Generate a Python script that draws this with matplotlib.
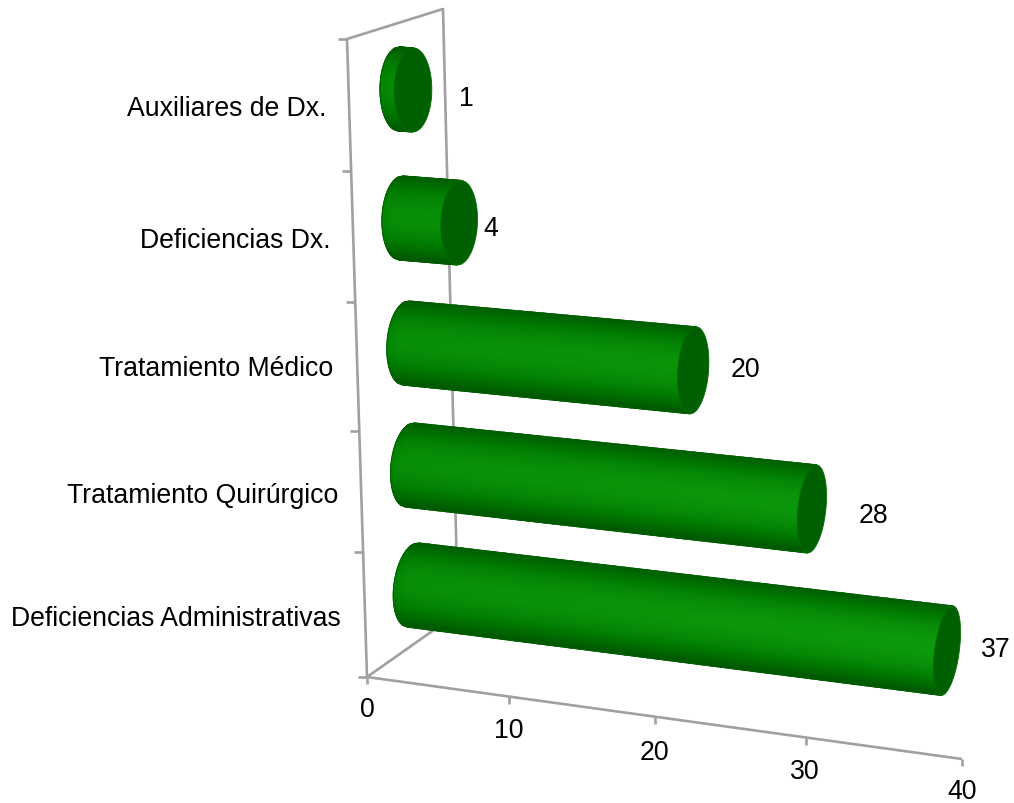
"""Barras cilíndricas horizontais em perspectiva: causas por categoria."""

import matplotlib
matplotlib.use("Agg")
import matplotlib.pyplot as plt
import numpy as np
from matplotlib.colors import LinearSegmentedColormap
from matplotlib.patches import Polygon

categorias = [
    "Auxiliares de Dx.",
    "Deficiencias Dx.",
    "Tratamiento Médico",
    "Tratamiento Quirúrgico",
    "Deficiencias Administrativas",
]
valores = [1, 4, 20, 28, 37]
ticks_x = [0, 10, 20, 30, 40]

# layout em pixels da imagem final
BASE_X = [399, 401, 406, 410, 413]
BASE_Y = [90, 219, 344, 466, 586]
GANHO = [1.0, 1.035, 0.997, 0.984, 0.975]
ROTULO_CAT_X = [326, 331, 333, 338, 341]
ROTULO_CAT_Y = [109, 241, 369, 496, 619]
ROTULO_VAL_X = [466, 491, 745, 873, 996]
ROTULO_VAL_Y = [99, 229, 370, 516, 650]
ROTULO_TICK_X = [367, 509, 654, 805, 962]
ROTULO_TICK_Y = [710, 731, 753, 772, 792]
TICKS_Y_PAREDE = [40, 172, 303, 432, 553, 678]

ORIGEM = np.array([367.0, 678.0])
FIM_EIXO = np.array([962.0, 760.0])
CINZA = "#a0a0a0"
TAMPA = "#005f00"

verdes = LinearSegmentedColormap.from_list("verdes", ["#005800", "#007a00", "#0c9a0c"])


def projeta(v):
    """Fração perspectiva do eixo de valores (px a partir da origem)."""
    return 13.955 * v / (1 - 0.001547 * v)


def ponto_eixo(v):
    return ORIGEM + (FIM_EIXO - ORIGEM) * projeta(v) / projeta(40)


def cilindro(ax, x0, y0, comprimento):
    inclinacao = 0.123 - (586 - y0) * 0.000115
    x1, y1 = x0 + comprimento, y0 + comprimento * inclinacao

    s = np.linspace(-1, 1, 61)
    u = np.linspace(0, 1, 50)
    S, U = np.meshgrid(s, u, indexing="ij")

    cx = x0 + U * (x1 - x0)
    cy = y0 + U * (y1 - y0)
    raio = 42 + 0.005 * (cx - 400)
    desvio = 6 - (586 - y0) * 0.0105
    menor_0 = 19 - (x0 - 400) * 0.0125
    curva = np.sqrt(1 - S ** 2)
    X = cx + S * desvio - curva * menor_0 * (1 - U)
    Y = cy - S * raio - curva * menor_0 * (1 - U) * inclinacao

    luz = (1 - (S - 0.05) ** 2).clip(0, 1)
    luz = luz * (0.82 + 0.18 * (cx - 400) / 550)
    luz = luz * (1 - 0.18 * np.exp(-U * comprimento / 5))
    ax.pcolormesh(X, Y, luz, cmap=verdes, vmin=0, vmax=1, shading="gouraud", zorder=3)

    # contorno suavizado da lateral
    contorno = np.column_stack([
        np.r_[X[:, 0], X[-1, -1], X[0, -1]],
        np.r_[Y[:, 0], Y[-1, -1], Y[0, -1]],
    ])
    ax.add_patch(Polygon(contorno, closed=True, fill=False, edgecolor="#006000",
                         linewidth=0.7, zorder=3.5))

    # tampa na ponta da barra
    t = np.linspace(0, 2 * np.pi, 120)
    raio_1 = 42 + 0.005 * (x1 - 400)
    desvio_1 = 6 - (586 - y0) * 0.0105
    menor_1 = 19 - (x1 - 400) * 0.0125
    xt = x1 + np.sin(t) * desvio_1 + np.cos(t) * menor_1
    yt = y1 - np.sin(t) * raio_1 + np.cos(t) * menor_1 * inclinacao
    ax.add_patch(Polygon(np.column_stack([xt, yt]), closed=True, facecolor=TAMPA,
                         edgecolor="#007000", linewidth=0.6, zorder=4))


plt.rcParams["font.family"] = ["Liberation Sans", "DejaVu Sans"]
fig = plt.figure(figsize=(10.14, 8.04), dpi=100)
ax = fig.add_axes([0, 0, 1, 1])
ax.set_xlim(0, 1014)
ax.set_ylim(804, 0)
ax.axis("off")

# paredes e piso
estilo = dict(color=CINZA, linewidth=1.9, solid_capstyle="butt", zorder=1)
ax.plot([367, 347, 443, 458], [678, 40, 10, 614], **estilo)
ax.plot([367, 458], [678, 614], **estilo)
ax.plot([ORIGEM[0], FIM_EIXO[0]], [ORIGEM[1], FIM_EIXO[1]], **estilo)

for y in TICKS_Y_PAREDE:
    x = 347 + (y - 40) / 638 * 20
    ax.plot([x - 9, x], [y, y], **estilo)

for v, tx, ty in zip(ticks_x, ROTULO_TICK_X, ROTULO_TICK_Y):
    px, py = ponto_eixo(v)
    ax.plot([px, px], [py, py + 7], **estilo)
    ax.text(tx, ty, str(v), fontsize=19.2, ha="center", va="center", color="black")

for i, nome in enumerate(categorias):
    cilindro(ax, BASE_X[i], BASE_Y[i], projeta(valores[i]) * GANHO[i])
    ax.text(ROTULO_CAT_X[i], ROTULO_CAT_Y[i], nome, fontsize=19.2, ha="right",
            va="center", color="black")
    ax.text(ROTULO_VAL_X[i], ROTULO_VAL_Y[i], str(valores[i]), fontsize=19.2,
            ha="center", va="center", color="black")

fig.savefig("out.png", dpi=100)
plt.close(fig)
